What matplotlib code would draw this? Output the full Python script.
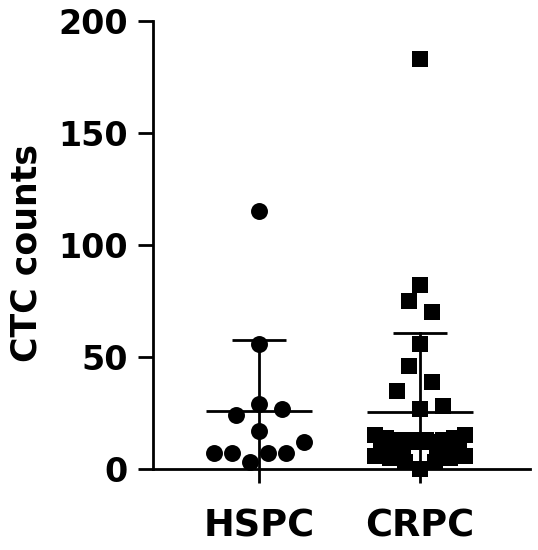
import numpy as np
import matplotlib
matplotlib.use('Agg')
import matplotlib.pyplot as plt

# ---- data (CTC counts per patient) ----
groups = ['HSPC', 'CRPC']
hspc_counts = [115, 56, 24, 29, 27, 17, 7, 7, 3, 7, 7, 12]
crpc_counts = [183, 82, 75, 70, 56, 46, 39, 35, 27, 28,
               15, 9, 14, 8, 13, 7, 12, 13, 12, 13, 12, 7, 13, 8, 14, 9, 15,
               6, 5, 3, 0, 3, 5, 6]
yticks = [0, 50, 100, 150, 200]
ylabel = 'CTC counts'

# ---- layout / style ----
plt.rcParams['font.family'] = ['DejaVu Sans']
plt.rcParams['font.weight'] = 'bold'

W, H = 538, 550
fig = plt.figure(figsize=(W / 100, H / 100), dpi=100)
ax = fig.add_axes([153 / W, 1 - 469 / H, (530 - 153) / W, (469 - 21) / H])
ax.set_xlim(0.342, 2.683)
ax.set_ylim(0, 200)

BIN_H = 10.0          # value-bin height used to spread points horizontally
MAX_SPACING_PX = 23.0
MAX_WIDTH_PX = 90.0


def spread(values, center, origin):
    """Prism-like scatter: points in the same value bin are spread
    horizontally (in entry order), centred on the column."""
    vals = np.asarray(values, float)
    bins = np.floor((vals - origin) / BIN_H).astype(int)
    px_per_unit = ax.transData.transform((1, 0))[0] - ax.transData.transform((0, 0))[0]
    xs = np.full(len(vals), float(center))
    for b in np.unique(bins):
        idx = np.where(bins == b)[0]
        k = len(idx)
        if k < 2:
            continue
        s = min(MAX_SPACING_PX, MAX_WIDTH_PX / (k - 1))
        offs = (np.arange(k) - (k - 1) / 2) * s
        xs[idx] = center + offs / px_per_unit
    return xs, vals


positions = [1, 2]
origins = [2.5, 7.0]
markers = ['o', 's']
msizes = [12.2, 11.5]
for pos, vals, org, mk, ms in zip(positions, [hspc_counts, crpc_counts], origins, markers, msizes):
    x, y = spread(vals, pos, org)
    ax.plot(x, y, linestyle='none', marker=mk, markersize=ms, color='black',
            markeredgewidth=0, zorder=3, clip_on=False)
    m = np.mean(vals)
    sd = np.std(vals, ddof=1)
    ax.plot([pos - 0.33, pos + 0.33], [m, m], color='black', lw=2, zorder=2, solid_capstyle='butt')
    ax.plot([pos - 0.165, pos + 0.165], [m + sd, m + sd], color='black', lw=2, zorder=2, solid_capstyle='butt')
    ax.plot([pos, pos], [m - sd, m + sd], color='black', lw=2, zorder=2)

for s in ['top', 'right']:
    ax.spines[s].set_visible(False)
for s in ['left', 'bottom']:
    ax.spines[s].set_linewidth(2)

ax.set_yticks(yticks)
ax.set_yticklabels([str(t) for t in yticks])
ax.set_xticks(positions)
ax.set_xticklabels(groups)
ax.tick_params(axis='y', length=11, width=2, labelsize=24, pad=7)
ax.tick_params(axis='x', length=10, width=2, labelsize=26.5, pad=18)
for lab in ax.get_xticklabels() + ax.get_yticklabels():
    lab.set_fontweight('bold')

fig.text(27 / W, 1 - 253 / H, ylabel, rotation=90, ha='center', va='center',
         fontsize=25, fontweight='bold')

fig.savefig('out.png', dpi=100)
